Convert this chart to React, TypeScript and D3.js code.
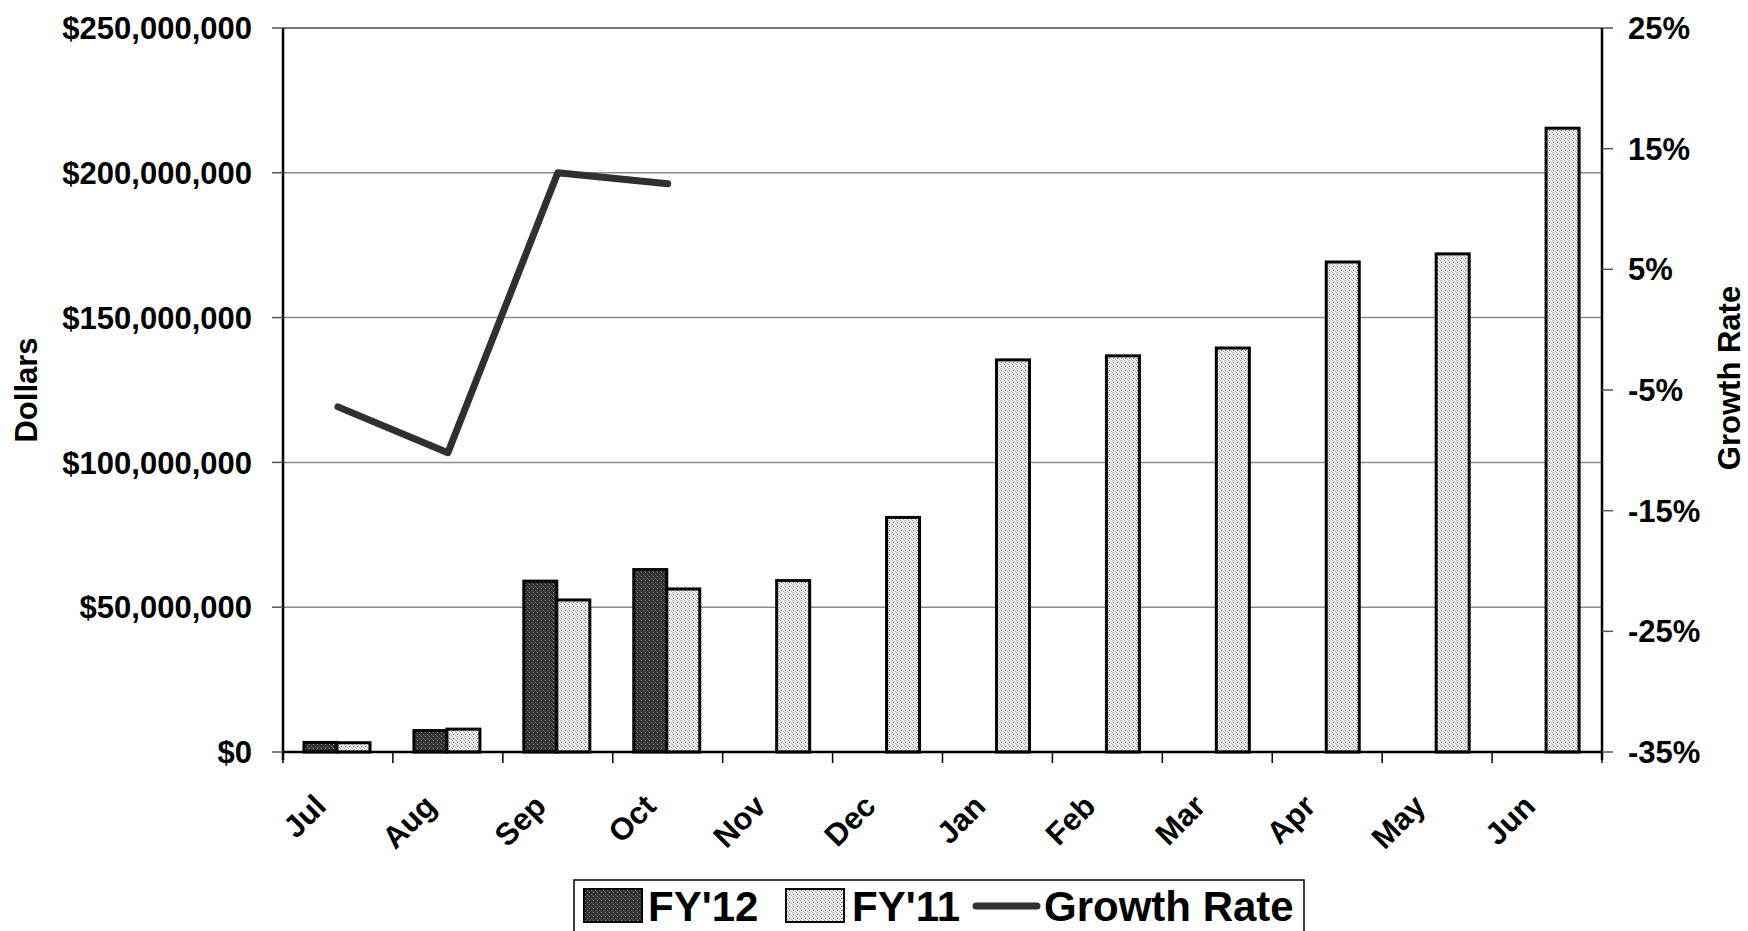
import React from "react";
import * as d3 from "d3";

const months = ["Jul", "Aug", "Sep", "Oct", "Nov", "Dec", "Jan", "Feb", "Mar", "Apr", "May", "Jun"];
const fy12Values: (number | null)[] = [3.3e6, 7.4e6, 59.0e6, 63.0e6, null, null, null, null, null, null, null, null];
const fy11Values = [3.2e6, 7.9e6, 52.5e6, 56.3e6, 59.2e6, 81.0e6, 135.4e6, 136.8e6, 139.5e6, 169.2e6, 172.0e6, 215.4e6];
const growthRate: (number | null)[] = [-6.4, -10.2, 13.0, 12.1, null, null, null, null, null, null, null, null];
const leftTicks = [0, 50e6, 100e6, 150e6, 200e6, 250e6];
const rightTicks = [-35, -25, -15, -5, 5, 15, 25];
const seriesNames = ["FY'12", "FY'11"];

const W = 1748;
const H = 931;
const L = 283;
const R = 1602;
const T = 28;
const B = 752;
const FONT = "'Liberation Sans', Arial, Helvetica, sans-serif";

export default function App() {
  const x = d3.scaleBand<string>().domain(months).range([L, R]).padding(0);
  const xs = d3.scaleBand<string>().domain(seriesNames).range([21, 87]).padding(0);
  const y = d3.scaleLinear().domain([0, 250e6]).range([B, T]);
  const y2 = d3.scaleLinear().domain([-35, 25]).range([B, T]);
  const fmt = d3.format("$,");

  const linePts: [number, number][] = [];
  months.forEach((m, i) => {
    const g = growthRate[i];
    if (g !== null) linePts.push([(x(m) as number) + x.bandwidth() / 2, y2(g)]);
  });
  const line = d3.line<[number, number]>().x((d) => d[0]).y((d) => d[1])(linePts) || "";

  const bw = xs.bandwidth();

  return (
    <div style={{ position: "absolute", left: 0, top: 0 }}>
      <svg width={W} height={H} style={{ display: "block", background: "#fff" }} fontFamily={FONT}>
        <defs>
          <pattern id="pDark" width="4" height="4" patternUnits="userSpaceOnUse">
            <rect width="4" height="4" fill="#2e2e2e" />
            <rect x="1" y="0" width="1" height="1" fill="#9a9a9a" />
            <rect x="3" y="2" width="1" height="1" fill="#777" />
            <rect x="0" y="3" width="1" height="1" fill="#5a5a5a" />
          </pattern>
          <pattern id="pLight" width="4" height="4" patternUnits="userSpaceOnUse">
            <rect width="4" height="4" fill="#f2f2f2" />
            <rect x="0" y="0" width="1" height="1" fill="#999" />
            <rect x="2" y="1" width="1" height="1" fill="#bbb" />
            <rect x="1" y="2" width="1" height="1" fill="#555" />
            <rect x="3" y="3" width="1" height="1" fill="#aaa" />
          </pattern>
        </defs>

        {/* gridlines */}
        {leftTicks.filter((t) => t > 0).map((t) => (
          <line key={"g" + t} x1={L} x2={R} y1={y(t)} y2={y(t)} stroke={t === 250e6 ? "#777" : "#8a8a8a"} strokeWidth={t === 250e6 ? 2 : 1.5} />
        ))}

        {/* bars */}
        {months.map((m, i) => {
          const x0 = x(m) as number;
          const v12 = fy12Values[i];
          const v11 = fy11Values[i];
          return (
            <g key={m}>
              {v12 !== null && (
                <rect x={x0 + (xs("FY'12") as number)} y={y(v12)} width={bw} height={B - y(v12)} fill="url(#pDark)" stroke="#000" strokeWidth={3} />
              )}
              <rect x={x0 + (xs("FY'11") as number)} y={y(v11)} width={bw} height={B - y(v11)} fill="url(#pLight)" stroke="#000" strokeWidth={3} />
            </g>
          );
        })}

        {/* growth line */}
        <path d={line} fill="none" stroke="#303030" strokeWidth={7} strokeLinejoin="round" strokeLinecap="round" />

        {/* axes */}
        <line x1={L} x2={L} y1={T} y2={B + 8} stroke="#000" strokeWidth={2.5} />
        <line x1={R} x2={R} y1={T} y2={B + 8} stroke="#000" strokeWidth={2.5} />
        <line x1={L} x2={R} y1={B} y2={B} stroke="#000" strokeWidth={2.5} />

        {/* left ticks */}
        {leftTicks.map((t) => (
          <g key={"l" + t}>
            <line x1={L - 11} x2={L} y1={y(t)} y2={y(t)} stroke="#555" strokeWidth={1.5} />
            <text x={252} y={y(t)} dy="0.36em" textAnchor="end" fontSize={31} fontWeight="bold" fill="#000">
              {fmt(t)}
            </text>
          </g>
        ))}

        {/* right ticks */}
        {rightTicks.map((t) => (
          <g key={"r" + t}>
            <line x1={R} x2={R + 11} y1={y2(t)} y2={y2(t)} stroke="#555" strokeWidth={1.5} />
            <text x={1628} y={y2(t)} dy="0.36em" textAnchor="start" fontSize={31} fontWeight="bold" fill="#000">
              {t + "%"}
            </text>
          </g>
        ))}

        {/* x ticks */}
        {months.map((m) => (
          <line key={"xt" + m} x1={x(m) as number} x2={x(m) as number} y1={B} y2={B + 11} stroke="#000" strokeWidth={1.5} />
        ))}
        <line x1={R} x2={R} y1={B} y2={B + 11} stroke="#000" strokeWidth={1.5} />

        {/* x labels */}
        {months.map((m) => {
          const cx = (x(m) as number) + x.bandwidth() / 2 - 10;
          return (
            <text key={"xl" + m} transform={`translate(${cx},808) rotate(-45)`} textAnchor="end" fontSize={31} fontWeight="bold" fill="#000">
              {m}
            </text>
          );
        })}

        {/* axis titles */}
        <text transform={`translate(37,${(T + B) / 2}) rotate(-90)`} textAnchor="middle" fontSize={31} fontWeight="bold">
          Dollars
        </text>
        <text transform={`translate(1740,${(T + B) / 2 - 12}) rotate(-90)`} textAnchor="middle" fontSize={31} fontWeight="bold">
          Growth Rate
        </text>

        {/* legend */}
        <rect x={574} y={880} width={730} height={70} fill="#fff" stroke="#000" strokeWidth={1.5} />
        <rect x={584} y={889} width={58} height={33} fill="url(#pDark)" stroke="#000" strokeWidth={2} />
        <text x={648} y={921} fontSize={42} fontWeight="bold">{seriesNames[0]}</text>
        <rect x={786} y={889} width={58} height={33} fill="url(#pLight)" stroke="#000" strokeWidth={2} />
        <text x={852} y={921} fontSize={42} fontWeight="bold">{seriesNames[1]}</text>
        <line x1={976} x2={1037} y1={906} y2={906} stroke="#303030" strokeWidth={7} strokeLinecap="round" />
        <text x={1044} y={921} fontSize={42} fontWeight="bold">Growth Rate</text>
      </svg>
    </div>
  );
}
